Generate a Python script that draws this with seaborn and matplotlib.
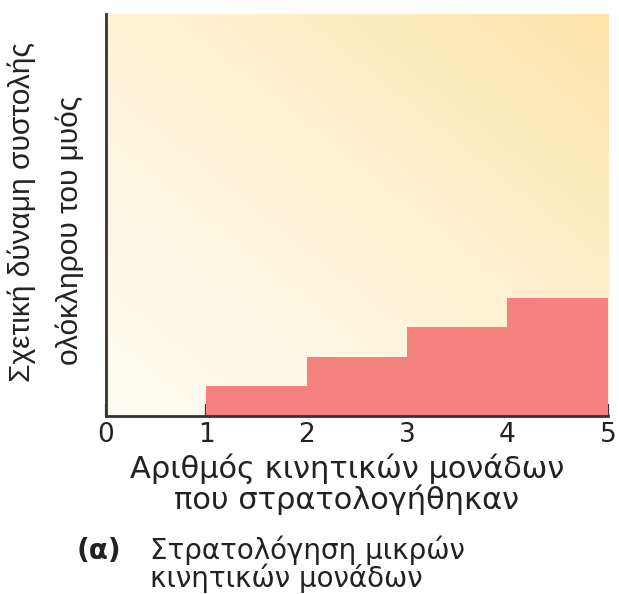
import numpy as np
import pandas as pd
import seaborn as sns
import matplotlib.pyplot as plt
from matplotlib.colors import LinearSegmentedColormap

# data
units_start = [1, 2, 3, 4]          # left edge of each step
rel_force = [1.0, 2.0, 3.0, 4.0]    # relative whole-muscle force
bin_edges = [1, 2, 3, 4, 5]
tick_vals = [0, 1, 2, 3, 4, 5]
tick_labels = ['0', '1', '2', '3', '4', '5']

ylabel_lines = ['Σχετική δύναμη συστολής', 'ολόκληρου του μυός']
xlabel_lines = ['Αριθμός κινητικών μονάδων', 'που στρατολογήθηκαν']
caption_tag = '(α)'
caption_lines = ['Στρατολόγηση μικρών', 'κινητικών μονάδων']

df = pd.DataFrame({'units': units_start, 'force': rel_force})

sns.set_style('white')
plt.rcParams['font.family'] = ['DejaVu Sans']
TXT = '#222222'

fig = plt.figure(figsize=(6.19, 5.94), dpi=100)
ax = fig.add_axes([0.171, 0.2997, 0.811, 0.6768])

# gradient background, pale bottom-left to warm yellow top-right
cmap = LinearSegmentedColormap.from_list('bg', ['#fffdf3', '#fff3d6', '#fde4aa'])
gx, gy = np.meshgrid(np.linspace(0, 1, 200), np.linspace(0, 1, 200))
grad = (gx + gy) / 2
ax.imshow(grad, cmap=cmap, extent=[0, 5, 0, 13.6], origin='lower',
          aspect='auto', zorder=0)

sns.histplot(data=df, x='units', weights='force', bins=bin_edges,
             color='#f48380', alpha=1, linewidth=0, ax=ax, zorder=2)

ax.set_xlim(0, 5)
ax.set_ylim(0, 13.6)
ax.set_xticks(tick_vals)
ax.set_xticklabels(tick_labels, fontsize=19, color=TXT)
ax.set_yticks([])
ax.set_xlabel('')
ax.set_ylabel('')
ax.tick_params(axis='x', direction='in', length=9, width=1.6,
               color='#333333', pad=4, bottom=True)
sns.despine(ax=ax)
for s in ['left', 'bottom']:
    ax.spines[s].set_linewidth(2)
    ax.spines[s].set_color('#333333')
    ax.spines[s].set_zorder(5)

W, H = 619, 594

# y label, two rotated lines
fig.text(22 / W, 1 - 212 / H, ylabel_lines[0], rotation=90, fontsize=21.5,
         family='Liberation Sans', ha='center', va='center', color=TXT)
fig.text(70 / W, 1 - 230 / H, ylabel_lines[1], rotation=90, fontsize=21.5,
         family='Liberation Sans', ha='center', va='center', color=TXT)

# x label
fig.text(347 / W, 1 - 478 / H, xlabel_lines[0], fontsize=22, ha='center',
         va='baseline', color=TXT)
fig.text(347 / W, 1 - 509 / H, xlabel_lines[1], fontsize=22, ha='center',
         va='baseline', color=TXT)

# caption
fig.text(77 / W, 1 - 559 / H, caption_tag, fontsize=20, fontweight='bold',
         ha='left', va='baseline', color=TXT)
fig.text(150 / W, 1 - 559 / H, caption_lines[0], fontsize=20, ha='left',
         va='baseline', color=TXT)
fig.text(150 / W, 1 - 587 / H, caption_lines[1], fontsize=20, ha='left',
         va='baseline', color=TXT)

fig.savefig('out.png', dpi=100)
